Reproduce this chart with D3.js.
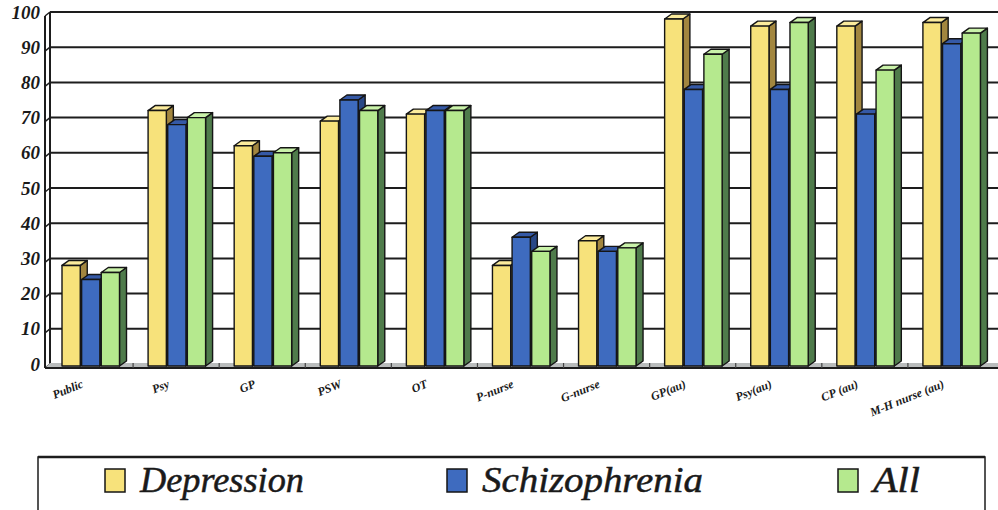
<!DOCTYPE html>
<html>
<head>
<meta charset="utf-8">
<script src="https://cdn.jsdelivr.net/npm/d3@7"></script>
<style>
  html, body { margin: 0; padding: 0; background: #fff; }
  svg { display: block; }
</style>
</head>
<body>
<svg id="chart" width="998" height="510"></svg>
<script>
// Categories along the x axis
const categories = ["Public", "Psy", "GP", "PSW", "OT", "P-nurse", "G-nurse",
                    "GP(au)", "Psy(au)", "CP (au)", "M-H nurse (au)"];
// Series names (legend order)
const seriesNames = ["Depression", "Schizophrenia", "All"];
// Values per series, one per category
const depression    = [28, 72, 62, 69, 71, 28, 35, 98, 96, 96, 97];
const schizophrenia = [24, 68, 59, 75, 72, 36, 32, 78, 78, 71, 91];
const allGroups     = [26, 70, 60, 72, 72, 32, 33, 88, 97, 83.5, 94];
const seriesValues = [depression, schizophrenia, allGroups];
// Y axis ticks
const yTicks = [0, 10, 20, 30, 40, 50, 60, 70, 80, 90, 100];

// Face colours for each series: front, top, side
const palette = [
  { front: "#f7e27b", top: "#fbeb9c", side: "#a2863f" },
  { front: "#3e6bbf", top: "#3559a6", side: "#294886" },
  { front: "#b5e98e", top: "#c9f2a9", side: "#4f7b4b" }
];

const SERIF = '"Liberation Serif"';

const svg = d3.select("#chart");
const plotLeft = 50, plotRight = 997, plotTop = 12, floorY = 364;
const depthX = 7, depthY = 5;   // 3D extrusion of each column
const wall = 5;                 // thickness of the side wall / floor

const y = d3.scaleLinear().domain([0, 100]).range([floorY, plotTop]);
const x0 = d3.scaleBand().domain(categories).range([plotLeft, plotRight]).padding(0);
const x1 = d3.scaleBand().domain(seriesNames).range([12, 69.5]).paddingInner(0.07);

// Back-wall gridlines with the small wall diagonals
const grid = svg.append("g");
yTicks.forEach(t => {
  const yy = y(t);
  grid.append("line")
    .attr("x1", plotLeft).attr("x2", 998).attr("y1", yy).attr("y2", yy)
    .attr("stroke", "#1d1d1d").attr("stroke-width", t === 0 ? 1.5 : 2);
  grid.append("line")
    .attr("x1", plotLeft - wall).attr("y1", yy + wall - 1)
    .attr("x2", plotLeft).attr("y2", yy)
    .attr("stroke", "#1d1d1d").attr("stroke-width", 1.5);
});

// Left side wall
grid.append("line").attr("x1", plotLeft).attr("x2", plotLeft)
  .attr("y1", y(100)).attr("y2", floorY)
  .attr("stroke", "#1d1d1d").attr("stroke-width", 2);
grid.append("line").attr("x1", plotLeft - wall).attr("x2", plotLeft - wall)
  .attr("y1", y(100) + wall - 1).attr("y2", floorY + wall - 1)
  .attr("stroke", "#1d1d1d").attr("stroke-width", 2);

// Floor
grid.append("polygon")
  .attr("points", [[plotLeft - wall, floorY + wall - 1], [plotLeft, floorY - 1],
                   [998, floorY - 1], [998, floorY + wall - 1]].join(" "))
  .attr("fill", "#b9bcbc").attr("stroke", "none");
grid.append("line").attr("x1", plotLeft - wall).attr("x2", 998)
  .attr("y1", floorY + wall - 1).attr("y2", floorY + wall - 1)
  .attr("stroke", "#1d1d1d").attr("stroke-width", 2);
// Category ticks on the floor
categories.forEach((c, i) => {
  if (i === 0) return;
  const xx = x0(c) - 3;
  grid.append("line").attr("x1", xx).attr("x2", xx)
    .attr("y1", floorY - 1).attr("y2", floorY + wall - 1)
    .attr("stroke", "#444").attr("stroke-width", 1.2);
});

// Y tick labels
svg.append("g").selectAll("text").data(yTicks).join("text")
  .attr("x", 40).attr("y", d => y(d)).attr("dy", "0.35em")
  .attr("text-anchor", "end")
  .style("font-family", SERIF).style("font-style", "italic")
  .style("font-weight", "bold").style("font-size", "19px")
  .attr("fill", "#1a1a1a")
  .text(d => d);

// 3D columns
const bars = svg.append("g");
categories.forEach((c, i) => {
  seriesNames.forEach((s, k) => {
    const v = seriesValues[k][i];
    const bx = x0(c) + x1(s), bw = x1.bandwidth();
    const yt = y(v), yb = floorY + 2;
    const col = palette[k];
    const g = bars.append("g")
      .attr("stroke", "#151515").attr("stroke-width", 1.4)
      .attr("stroke-linejoin", "round");
    g.append("polygon").attr("fill", col.side)
      .attr("points", [[bx + bw, yt], [bx + bw + depthX, yt - depthY],
                       [bx + bw + depthX, yb - depthY], [bx + bw, yb]].join(" "));
    g.append("polygon").attr("fill", col.top)
      .attr("points", [[bx, yt], [bx + depthX, yt - depthY],
                       [bx + bw + depthX, yt - depthY], [bx + bw, yt]].join(" "));
    g.append("rect").attr("fill", col.front)
      .attr("x", bx).attr("y", yt).attr("width", bw).attr("height", yb - yt);
  });
});

// Category labels, slanted
svg.append("g").selectAll("text").data(categories).join("text")
  .attr("transform", d => `translate(${x0(d) + x0.bandwidth() / 2 - 9},${387}) rotate(-22)`)
  .attr("text-anchor", "end")
  .style("font-family", SERIF).style("font-style", "italic")
  .style("font-weight", "bold").style("font-size", "12px")
  .attr("fill", "#1a1a1a")
  .text(d => d);

// Legend
const legend = svg.append("g");
legend.append("rect").attr("x", 38).attr("y", 457).attr("width", 947).attr("height", 70)
  .attr("fill", "#fff").attr("stroke", "#1d1d1d").attr("stroke-width", 1.5);
legend.append("line").attr("x1", 38).attr("x2", 985).attr("y1", 457).attr("y2", 457)
  .attr("stroke", "#1d1d1d").attr("stroke-width", 2.5);
const legendX = [105, 447, 838];
const legendTextWidth = [164, 221, 47];
seriesNames.forEach((s, k) => {
  legend.append("rect").attr("x", legendX[k]).attr("y", 469)
    .attr("width", 20).attr("height", 23)
    .attr("fill", palette[k].front).attr("stroke", "#151515").attr("stroke-width", 1.5);
  legend.append("text")
    .attr("x", legendX[k] + 35).attr("y", 492)
    .attr("textLength", legendTextWidth[k]).attr("lengthAdjust", "spacingAndGlyphs")
    .style("font-family", SERIF).style("font-style", "italic")
    .style("font-size", "36px")
    .attr("fill", "#1a1a1a").attr("stroke", "#1a1a1a").attr("stroke-width", 0.5)
    .text(s);
});
</script>
</body>
</html>
